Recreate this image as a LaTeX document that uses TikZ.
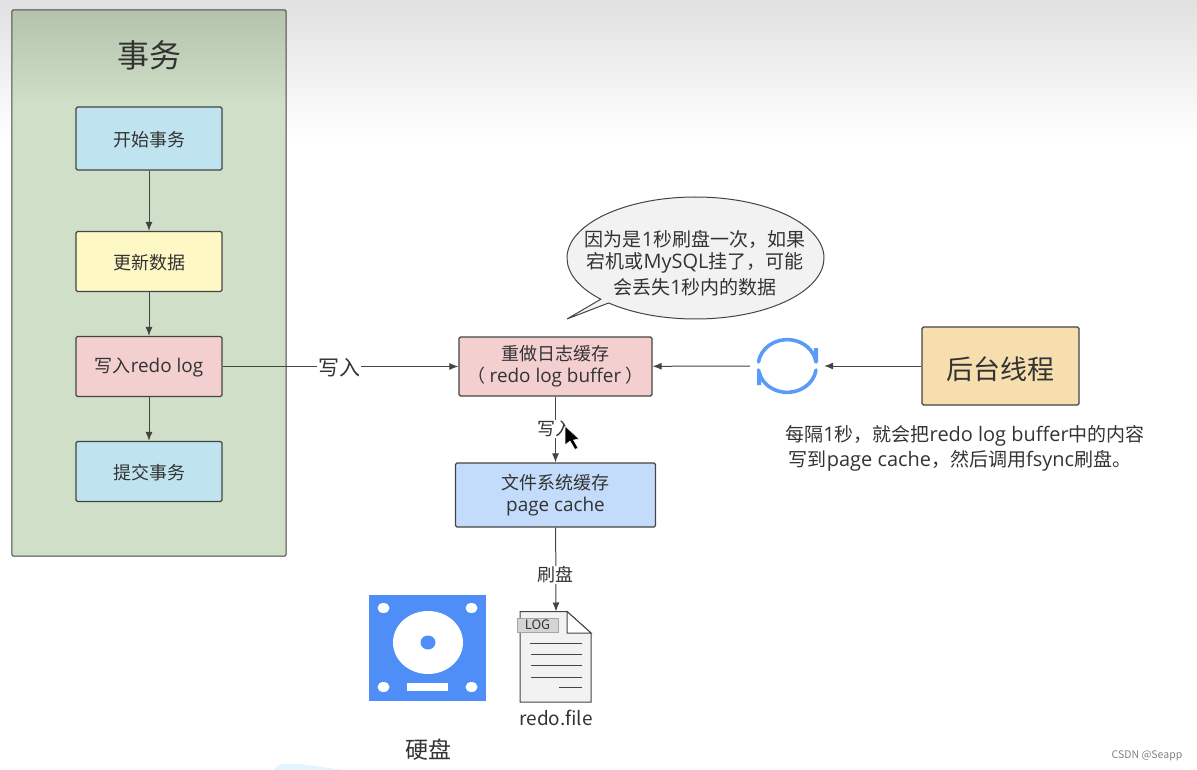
\documentclass[tikz,border=0pt]{standalone}
\usepackage{fontspec}
\setmainfont{Noto Sans CJK SC}
\newfontfamily\enfont[Scale=1.05]{Open Sans}
\usetikzlibrary{shapes,shapes.callouts,arrows.meta}
\definecolor{txt}{HTML}{333333}
\definecolor{edgec}{HTML}{444444}
\definecolor{panelc}{HTML}{D0E0C8}
\definecolor{panelt}{HTML}{B4C4AC}
\definecolor{cyanc}{HTML}{C0E4EF}
\definecolor{yellowc}{HTML}{FDF8C4}
\definecolor{pinkc}{HTML}{F3CFD0}
\definecolor{bluec}{HTML}{C3DCFB}
\definecolor{orangec}{HTML}{F6DEAF}
\definecolor{iconc}{HTML}{4F8EF7}
\definecolor{loopc}{HTML}{5B9BF8}
\newcommand{\px}[1]{\fontsize{#1}{#1}\selectfont}
\newcommand{\en}[1]{{\enfont #1}}
\tikzstyle{drop} = [execute at begin node={\rule{0pt}{#1}}]
\tikzstyle{block} = [rectangle, draw=edgec, line width=1.2pt, rounded corners=1.5pt, drop=17.5pt,
    text=txt, align=center, font=\px{18}, inner sep=0pt, minimum width=146pt, minimum height=60pt]
\tikzstyle{line} = [draw=edgec, line width=1pt, -{Latex[length=9pt,width=7pt]}]
\tikzstyle{comment} = [text=txt, font=\px{18}, inner sep=1pt]
\tikzstyle{rule} = [draw=edgec, line width=1pt]

\begin{document}
\begin{tikzpicture}[x=1pt, y=-1pt, node distance=105pt]
  \useasboundingbox (0,0) rectangle (1197,770);
  % Background
  \shade [top color=black!12, bottom color=white] (0,0) rectangle (1197,140);
  \fill [cyan!12, rounded corners=3pt] (272,771) -- (280,764) -- (300,764) -- (350,771) -- cycle;
  \node [inner sep=0pt] (panel) at (149,283) [rectangle, fill=panelc,
    rounded corners=2pt, minimum width=274pt, minimum height=546pt] {};
  \shade [top color=panelt, bottom color=panelc] (12.5,10.5) rectangle (285.5,105);
  \draw [edgec, line width=1pt, rounded corners=2pt] (panel.north west) rectangle (panel.south east);

  % Place nodes
  \node [text=txt, font=\px{32}] (title) at (149,55) {事务};
  \node [block, fill=cyanc, minimum height=63pt] (begin) at (149,138.5) {开始事务};
  \node [block, fill=yellowc, below of=begin, yshift=-18pt] (update) {更新数据};
  \node [block, fill=pinkc, below of=update] (write) {写入\en{redo log}};
  \node [block, fill=cyanc, below of=write] (commit) {提交事务};
  % Draw edges
  \path [line] (begin) -- (update);
  \path [line] (update) -- (write);
  \path [line] (write) -- (commit);

  % Place nodes
  \node [block, fill=pinkc, minimum width=193pt, minimum height=59pt] (buffer) at (555.5,366.5)
    {重做日志缓存\\[4pt]（ \en{redo log buffer} ）};
  \node [block, fill=bluec, minimum width=200pt, minimum height=64pt, below of=buffer, yshift=-23.5pt] (cache)
    {文件系统缓存\\[4pt]\en{page cache}};
  \node [block, fill=orangec, minimum width=157pt, minimum height=78pt, font=\px{27}, drop=30pt] (thread) at (1000.5,366) {后台线程};
  \node [circle, minimum size=74pt, inner sep=0pt] (sync) at (787,366) {};
  % Draw edges
  \path [line] (write) -- (buffer);
  \path [line] (sync) -- (buffer);
  \path [line] (thread) -- (sync);
  \path [line] (buffer) -- (cache);
  % Comments
  \node [comment, fill=white, font=\px{21}] (c1) at (339,368) {写入};
  \node [comment, fill=white] (c2) at (555,429) {写入};

  % Sync icon
  \draw [loopc, line width=3.6pt, line cap=round] (758.5,362) arc (188:352:29 and 26);
  \draw [loopc, line width=3.6pt, line cap=round] (816,370) arc (8:172:29 and 26);
  \fill [loopc] (814,348) -- (818,348) -- (818,363) -- (813,358) -- cycle;
  \fill [loopc] (757,369) -- (762,374) -- (761,385) -- (757,385) -- cycle;

  % Disk
  \fill [iconc] (369,595) rectangle (486,701);
  \fill [white] (428,642.5) ellipse (35 and 31.5);
  \fill [iconc] (428,642.5) ellipse (7.5 and 7);
  \fill [white] (383.5,608) ellipse (6 and 5);
  \fill [white] (471.5,608) ellipse (6 and 5);
  \fill [white] (383.5,687) ellipse (6 and 5);
  \fill [white] (471.5,687) ellipse (6 and 5);
  \fill [white] (407,683) rectangle (448,691);
  \node [text=txt, font=\px{23}] (disk) at (428,750) {硬盘};

  % File
  \coordinate (filetop) at (556,611.5);
  \draw [edgec, line width=1pt, fill=black!5] (filetop) -- (520,611.5) -- (520,702) -- (591,702) -- (591,633) -- (567,611.5) -- cycle;
  \draw [edgec, line width=1pt, fill=white] (567,611.5) -- (567,633) -- (591,633) -- cycle;
  \node [draw=black!35, fill=black!17, text=txt, font=\px{13}, minimum width=41pt, minimum height=14pt, inner sep=0pt] (tag) at (537.5,625) {LOG};
  \draw [rule] (530,643.5) -- (582,643.5);
  \draw [rule] (531,654.5) -- (582,654.5);
  \draw [rule] (531,665) -- (582,665);
  \draw [rule] (531,677) -- (582,677);
  \draw [rule] (559,687) -- (582,687);
  \node [comment, font=\px{19}] (file) at (556,718) {redo.file};
  % Draw edges
  \path [line] (cache) -- (filetop);
  \node [comment, fill=white] (c3) at (555,575) {刷盘};

  % Bubble
  \node [ellipse callout, draw=edgec, line width=1pt, fill=black!5, inner sep=0pt,
    minimum width=257pt, minimum height=122pt, callout absolute pointer={(567,319)},
    callout pointer arc=5] (bubble) at (695.5,258) {};
  \node [text=txt, align=center, font=\px{19}, inner sep=0pt] (say) at (695,263)
    {因为是\en{1}秒刷盘一次，如果\\[3.5pt]宕机或\en{MySQL}挂了，可能\\[3.5pt]会丢失\en{1}秒内的数据};

  % Comments
  \node [comment, align=center, font=\px{19}] (c4) at (965,448.5)
    {每隔\en{1}秒，就会把\en{redo log buffer}中的内容\\[2.5pt]写到\en{page cache}，然后调用\en{fsync}刷盘。\hspace*{10pt}};
  \node [text=black!50, font=\px{10.5}] (mark) at (1147,756) {CSDN @Seapp};

  % Cursor
  \draw [white, line width=.5pt, fill=black] (565,426) -- (565,445) -- (570,441) -- (575,449.5)
    -- (578,448) -- (573.5,440) -- (579,439) -- cycle;
\end{tikzpicture}
\end{document}
